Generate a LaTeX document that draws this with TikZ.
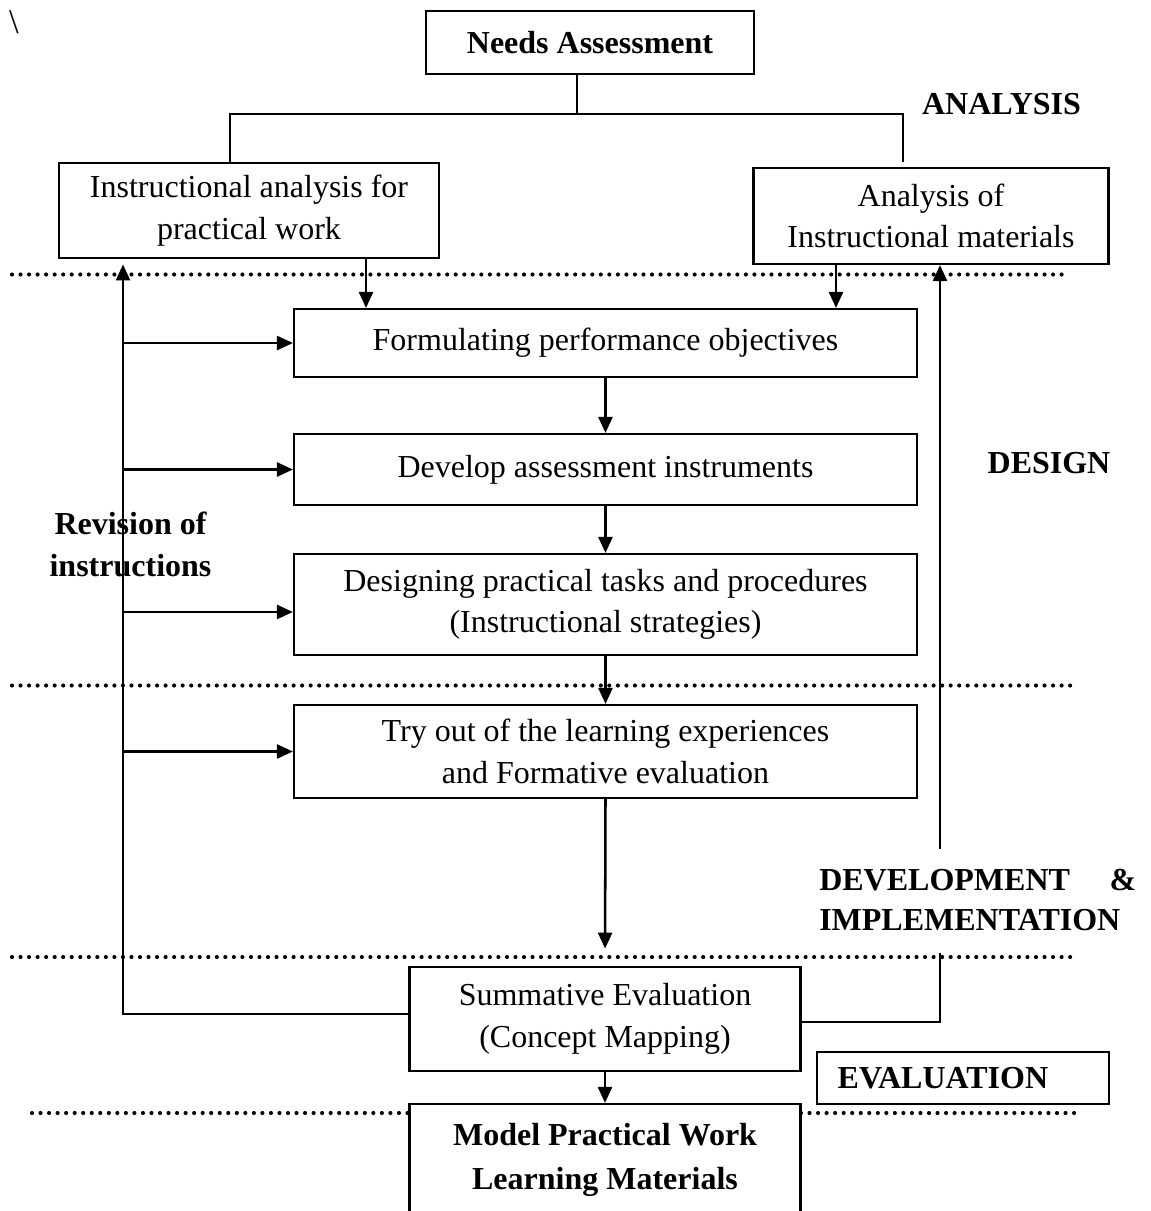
\documentclass[tikz,border=0pt]{standalone}
\usepackage{fontspec}
\setmainfont{Liberation Serif}
\usetikzlibrary{arrows.meta}
\begin{document}
\begin{tikzpicture}[x=0.75pt,y=-0.75pt,
  box/.style={draw, line width=1.6pt, inner sep=0pt, align=center,
    font=\fontsize{24}{31}\selectfont},
  boldbox/.style={box, font=\fontsize{24}{33}\selectfont\bfseries},
  phase/.style={font=\fontsize{24}{31.5}\selectfont\bfseries, inner sep=0pt, align=center},
  flow/.style={line width=1.9pt, -{Triangle[length=12pt,width=10.5pt]}},
  link/.style={line width=1.3pt},
  dotrule/.style={line width=3.1pt, line cap=round, dash pattern=on 0pt off 6.4pt}
]
\useasboundingbox (0,0) rectangle (1151,1211);

% stray mark in the upper left corner
\node[font=\fontsize{26}{31}\selectfont, inner sep=0pt] (bs) at (14,22) {\textbackslash};

% phase separators
\draw[dotrule] (12,274.5) -- (1062,274.5);
\draw[dotrule] (12,685.5) -- (1078,685.5);
\draw[dotrule] (12,957) -- (1078,957);
\draw[dotrule] (32,1113) -- (409,1113);
\draw[dotrule] (801,1113) -- (1080,1113);

% boxes
\node[boldbox, minimum width=246pt, minimum height=47.25pt] (na) at (590,42.5) {Needs Assessment};
\node[box, minimum width=285pt, minimum height=71.25pt] (ia) at (249,210.5) {Instructional analysis for\\practical work};
\node[box, minimum width=266.25pt, minimum height=72pt] (am) at (931,216) {Analysis of\\Instructional materials};
\node[box, minimum width=467.25pt, minimum height=51pt] (fp) at (605.5,343) {Formulating performance objectives};
\node[box, minimum width=467.25pt, minimum height=53.25pt] (da) at (605.5,469.5) {Develop assessment instruments};
\node[box, minimum width=467.25pt, minimum height=75.75pt] (dp) at (605.5,604.5) {Designing practical tasks and procedures\\(Instructional strategies)};
\node[box, minimum width=467.25pt, minimum height=69.75pt] (tr) at (605.5,751.5) {Try out of the learning experiences\\and Formative evaluation};
\node[box, minimum width=293.25pt, minimum height=78pt] (se) at (605,1019) {Summative Evaluation\\(Concept Mapping)};
\node[boldbox, minimum width=293.25pt, minimum height=84pt] (mp) at (605,1160) {Model Practical Work\\Learning Materials};
\node[boldbox, minimum width=219pt, minimum height=38.6pt, inner xsep=15.75pt, text width=187.5pt, align=left] (ev) at (962.7,1078) {EVALUATION};

% phase labels
\node[phase] (an) at (1001.5,104) {ANALYSIS};
\node[phase] (ds) at (1049,463) {DESIGN};
\node[phase] (rv) at (130.5,544) {Revision of\\instructions};
\node[phase, anchor=west, font=\fontsize{24}{30}\selectfont\bfseries] (dv) at (819,900)
  {\parbox{237.75pt}{DEVELOPMENT\hfill\&\\IMPLEMENTATION}};

% needs assessment branches
\coordinate (split) at (577,114.3);
\coordinate (lft) at (230,114.3);
\coordinate (rgt) at (903,114.3);
\coordinate (rend) at (903,162);
\draw[link] (na.south -| split) -- (split);
\draw[link] (ia.north -| lft) -- (lft) -- (rgt) -- (rend);

% main flow
\coordinate (xl) at (366,0);
\coordinate (xr) at (836,0);
\coordinate (xfb) at (123,0);
\draw[flow] (ia.south -| xl) -- (fp.north -| xl);
\draw[flow] (am.south -| xr) -- (fp.north -| xr);
\draw[flow] (fp.south) -- (da.north);
\draw[flow] (da.south) -- (dp.north);
\draw[flow] (dp.south) -- (tr.north);
\draw[flow, shorten >=13pt] (tr.south) -- (se.north);
\draw[flow] (se.south) -- (mp.north);

% revision loop on the left
\draw[flow, shorten >=4pt] ([yshift=3.75pt]se.west) -| (ia.south -| xfb);
\coordinate (dpin) at ([yshift=-5.6pt]dp.west);
\draw[flow] (fp.west -| xfb) -- (fp.west);
\draw[flow] (da.west -| xfb) -- (da.west);
\draw[flow] (dpin -| xfb) -- (dpin);
\draw[flow] (tr.west -| xfb) -- (tr.west);

% feedback to materials analysis on the right
\coordinate (gb) at (940,953);
\coordinate (gt) at (940,849);
\draw[line width=1.9pt] ([yshift=-2.25pt]se.east) -| (gb);
\draw[flow] (gt) -- (am.south -| gt);
\end{tikzpicture}
\end{document}
